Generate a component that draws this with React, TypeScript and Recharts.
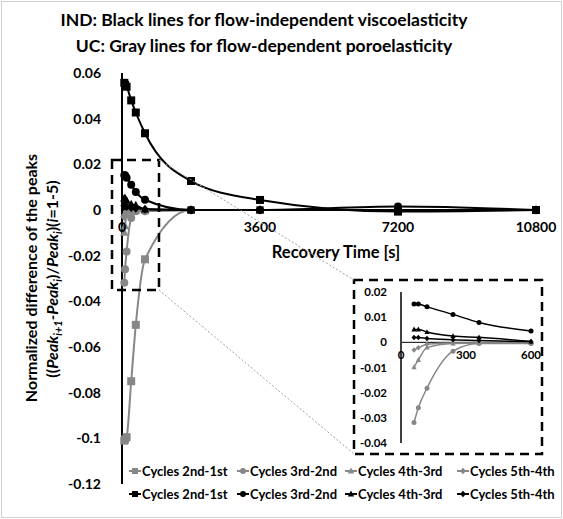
import React from "react";
import { LineChart, Line, XAxis, YAxis, ReferenceLine, ReferenceDot } from "recharts";

const FONT = "Lato, 'Noto Sans', sans-serif";
const GRAY = "#878787";
const BLACK = "#000000";

// recovery times [s]
const times = [60, 80, 120, 240, 360, 600, 1800, 3600, 7200, 10800];

// UC (gray): flow-dependent poroelasticity
const uc21 = [-0.101, -0.1005, -0.0995, -0.075, -0.0503, -0.0216, 0, 0, 0, 0];
const uc32 = [-0.0319, -0.026, -0.0182, -0.0035, -0.0005, -0.0005, 0, 0, 0, 0];
const uc43 = [-0.0099, -0.007, -0.0021, -0.0005, -0.0003, -0.0003, 0, 0, 0, 0];
const uc54 = [-0.003, -0.0022, -0.0008, -0.0003, -0.0003, -0.0003, 0, 0, 0, 0];

// IND (black): flow-independent viscoelasticity
const ind21 = [0.0557, 0.0548, 0.054, 0.048, 0.0427, 0.0336, 0.0127, 0.0044, -0.0007, 0];
const ind32 = [0.0152, 0.0152, 0.0141, 0.0111, 0.0079, 0.0045, 0, 0, 0.0015, 0];
const ind43 = [0.0051, 0.0051, 0.0041, 0.0025, 0.002, 0.0003, 0, 0, 0, 0];
const ind54 = [0.0019, 0.0019, 0.0015, 0.001, 0.0007, 0.0003, 0, 0, 0, 0];

const yTicks = [-0.12, -0.1, -0.08, -0.06, -0.04, -0.02, 0, 0.02, 0.04, 0.06];
const xTicks = [0, 3600, 7200, 10800];
const insetYTicks = [-0.04, -0.03, -0.02, -0.01, 0, 0.01, 0.02];
const insetXTicks = [0, 300, 600];
const insetMaxTime = 600;

type Shape = "square" | "circle" | "triangle" | "diamond";

const series: { key: string; name: string; values: number[]; color: string; shape: Shape }[] = [
  { key: "uc21", name: "Cycles 2nd-1st", values: uc21, color: GRAY, shape: "square" },
  { key: "uc32", name: "Cycles 3rd-2nd", values: uc32, color: GRAY, shape: "circle" },
  { key: "uc43", name: "Cycles 4th-3rd", values: uc43, color: GRAY, shape: "triangle" },
  { key: "uc54", name: "Cycles 5th-4th", values: uc54, color: GRAY, shape: "diamond" },
  { key: "ind21", name: "Cycles 2nd-1st", values: ind21, color: BLACK, shape: "square" },
  { key: "ind32", name: "Cycles 3rd-2nd", values: ind32, color: BLACK, shape: "circle" },
  { key: "ind43", name: "Cycles 4th-3rd", values: ind43, color: BLACK, shape: "triangle" },
  { key: "ind54", name: "Cycles 5th-4th", values: ind54, color: BLACK, shape: "diamond" },
];

const mainData = times.map((t, i) => {
  const row: Record<string, number> = { t };
  series.forEach((s) => (row[s.key] = s.values[i]));
  return row;
});
const insetData = mainData.filter((r) => r.t <= insetMaxTime);
const insetSeries = series.filter((s) => !s.key.endsWith("21"));

function Marker({ shape, cx, cy, size, color }: { shape: Shape; cx: number; cy: number; size: number; color: string }) {
  if (cx == null || cy == null) return null;
  const h = size / 2;
  if (shape === "square") return <rect x={cx - h} y={cy - h} width={size} height={size} fill={color} />;
  if (shape === "circle") return <circle cx={cx} cy={cy} r={h} fill={color} />;
  if (shape === "triangle")
    return <polygon points={`${cx},${cy - h * 1.15} ${cx + h * 1.05},${cy + h * 0.8} ${cx - h * 1.05},${cy + h * 0.8}`} fill={color} />;
  return <polygon points={`${cx},${cy - h * 1.1} ${cx + h},${cy} ${cx},${cy + h * 1.1} ${cx - h},${cy}`} fill={color} />;
}

const fmt = (v: number) => String(Number(v.toFixed(2)));
const tickStyle = { fill: "#000", fontSize: 14, fontWeight: 700, fontFamily: FONT };

function LegendRow({ y, color, items }: { y: number; color: string; items: typeof series }) {
  const xs = [129, 237, 345, 457];
  return (
    <g>
      {items.map((s, j) => (
        <g key={s.key}>
          <line x1={xs[j]} x2={xs[j] + 12} y1={y} y2={y} stroke={color} strokeWidth={2} />
          <Marker shape={s.shape} cx={xs[j] + 6} cy={y} size={6} color={color} />
          <text x={xs[j] + 13} y={y + 4.5} fontSize={13} fontWeight={700} fontFamily={FONT} fill="#000">
            {s.name}
          </text>
        </g>
      ))}
    </g>
  );
}

export default function App() {
  return (
    <div style={{ position: "absolute", left: 0, top: 0, width: 563, height: 519, background: "#fff", fontFamily: FONT }}>
      <div style={{ position: "absolute", left: 0, top: 0 }}>
        <LineChart width={563} height={519} data={mainData} margin={{ top: 73, right: 27, bottom: 35, left: 62 }}>
          <XAxis dataKey="t" type="number" domain={[0, 10800]} hide />
          <YAxis
            type="number"
            domain={[-0.12, 0.06]}
            ticks={yTicks}
            interval={0}
            width={60}
            axisLine={{ stroke: "#000", strokeWidth: 2 }}
            tickLine={false}
            tickSize={6}
            tickMargin={15}
            tick={tickStyle}
            tickFormatter={fmt}
          />
          <ReferenceLine y={0} stroke="#000" strokeWidth={2} />
          {xTicks.map((t) => (
            <ReferenceDot
              key={t}
              x={t}
              y={0}
              r={0}
              fill="none"
              stroke="none"
              ifOverflow="visible"
              label={{ value: String(t), position: "bottom", offset: 12, ...tickStyle }}
            />
          ))}
          {series.map((s) => (
            <Line
              key={s.key}
              dataKey={s.key}
              type="monotone"
              stroke={s.color}
              strokeWidth={2}
              isAnimationActive={false}
              activeDot={false}
              dot={(p: any) => <Marker key={`${s.key}-${p.index}`} shape={s.shape} cx={p.cx} cy={p.cy} size={8} color={s.color} />}
            />
          ))}
        </LineChart>
      </div>

      <div style={{ position: "absolute", left: 353, top: 279, width: 190, height: 176, background: "#fff" }}>
        <LineChart width={190} height={176} data={insetData} margin={{ top: 13, right: 12, bottom: 12, left: 8 }}>
          <XAxis dataKey="t" type="number" domain={[0, insetMaxTime]} hide />
          <YAxis
            type="number"
            domain={[-0.04, 0.02]}
            ticks={insetYTicks}
            interval={0}
            width={40}
            axisLine={{ stroke: "#404040", strokeWidth: 2 }}
            tickLine={false}
            tickSize={6}
            tickMargin={8}
            tick={{ ...tickStyle, fontSize: 11.5 }}
            tickFormatter={fmt}
          />
          <ReferenceLine y={0} stroke="#000" strokeWidth={1} />
          {insetXTicks.map((t) => (
            <ReferenceDot
              key={t}
              x={t}
              y={0}
              r={0}
              fill="none"
              stroke="none"
              ifOverflow="visible"
              label={{ value: String(t), position: "bottom", offset: 9, ...tickStyle, fontSize: 11.5 }}
            />
          ))}
          {insetSeries.map((s) => (
            <Line
              key={s.key}
              dataKey={s.key}
              type="monotone"
              stroke={s.color}
              strokeWidth={1.5}
              isAnimationActive={false}
              activeDot={false}
              dot={(p: any) => <Marker key={`${s.key}-${p.index}`} shape={s.shape} cx={p.cx} cy={p.cy} size={5} color={s.color} />}
            />
          ))}
        </LineChart>
      </div>

      <svg width={563} height={519} style={{ position: "absolute", left: 0, top: 0, pointerEvents: "none" }}>
        <rect x={1.5} y={1.5} width={560} height={516} fill="none" stroke="#d0d0d0" strokeWidth={1} />
        <text x={264} y={26} textAnchor="middle" fontSize={17.5} fontWeight={700} fontFamily={FONT}>
          IND: Black lines for flow-independent viscoelasticity
        </text>
        <text x={264} y={52} textAnchor="middle" fontSize={17.5} fontWeight={700} fontFamily={FONT}>
          UC: Gray lines for flow-dependent poroelasticity
        </text>
        <text x={336} y={258} textAnchor="middle" fontSize={16.5} fontWeight={700} fontFamily={FONT}>
          Recovery Time [s]
        </text>
        <text transform="translate(37,278) rotate(-90)" textAnchor="middle" fontSize={16} fontWeight={700} fontFamily={FONT}>
          Normalized difference of the peaks
        </text>
        <text transform="translate(58,279) rotate(-90)" textAnchor="middle" fontSize={16} fontWeight={700} fontFamily={FONT}>
          <tspan>((</tspan>
          <tspan fontStyle="italic">Peak</tspan>
          <tspan fontStyle="italic" fontSize={11} dy={4}>i+1</tspan>
          <tspan fontStyle="italic" dy={-4}>-Peak</tspan>
          <tspan fontStyle="italic" fontSize={11} dy={4}>i</tspan>
          <tspan dy={-4}>)/</tspan>
          <tspan fontStyle="italic">Peak</tspan>
          <tspan fontStyle="italic" fontSize={11} dy={4}>i</tspan>
          <tspan dy={-4}>)(</tspan>
          <tspan fontStyle="italic">i</tspan>
          <tspan>=1-5)</tspan>
        </text>

        <rect x={112} y={160} width={47} height={130} fill="none" stroke="#000" strokeWidth={2.5} strokeDasharray="9 6" />
        <rect x={354} y={280} width={188} height={174} fill="none" stroke="#000" strokeWidth={2.5} strokeDasharray="9 6" />
        <line x1={159} y1={160} x2={354} y2={280} stroke="#a0a0a0" strokeWidth={1} strokeDasharray="2 2" />
        <line x1={159} y1={290} x2={354} y2={454} stroke="#a0a0a0" strokeWidth={1} strokeDasharray="2 2" />

        <LegendRow y={471} color={GRAY} items={series.slice(0, 4)} />
        <LegendRow y={494} color={BLACK} items={series.slice(4)} />
      </svg>
    </div>
  );
}
